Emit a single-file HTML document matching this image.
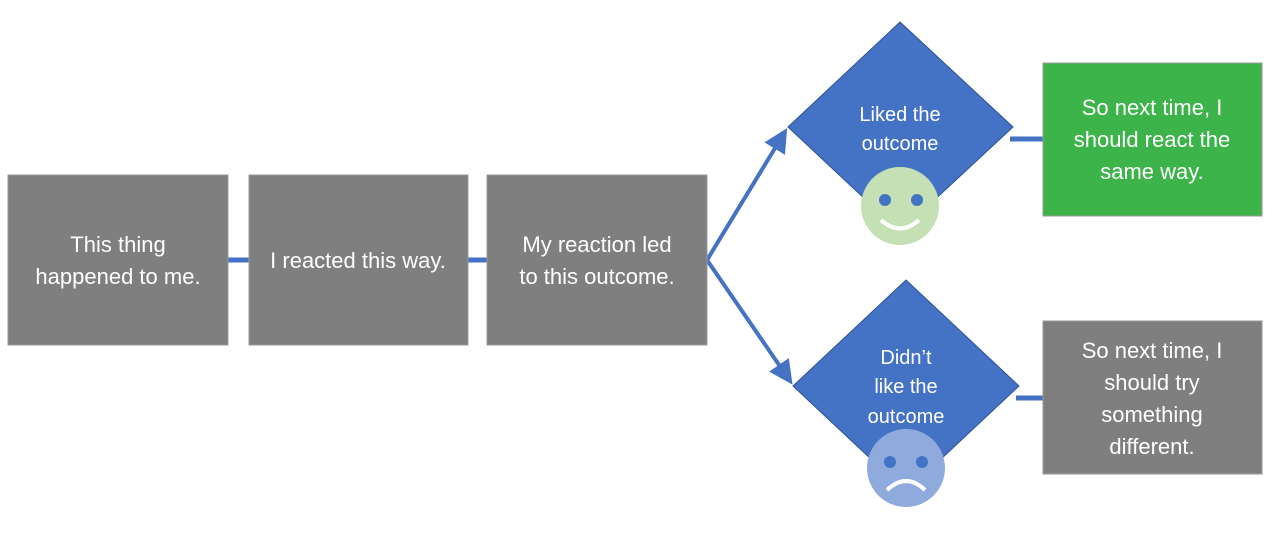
<!DOCTYPE html>
<html><head><style>
body{margin:0;background:#fff;width:1273px;height:530px;overflow:hidden}
svg text{font-family:"Liberation Sans",sans-serif;fill:#fff;text-anchor:middle}
</style></head><body>
<svg width="1273" height="530" xmlns="http://www.w3.org/2000/svg">
<defs><marker id="a" markerWidth="6" markerHeight="6" refX="4" refY="3" orient="auto"><path d="M0,0 L6,3 L0,6 z" fill="#4472c4"/></marker></defs>
<g stroke="#4472c4" stroke-width="5" fill="none">
<line x1="228" y1="260" x2="249" y2="260"/>
<line x1="468" y1="260" x2="487" y2="260"/>
<line x1="1010" y1="139" x2="1043" y2="139"/>
<line x1="1016" y1="398" x2="1043" y2="398"/>
<line x1="707" y1="260" x2="783" y2="135" marker-end="url(#a)" stroke-width="4"/>
<line x1="707" y1="260" x2="788" y2="378" marker-end="url(#a)" stroke-width="4"/>
</g>
<g fill="#7f7f7f" stroke="#999" stroke-width="1">
<rect x="8" y="175" width="220" height="170"/>
<rect x="249" y="175" width="219" height="170"/>
<rect x="487" y="175" width="220" height="170"/>
<rect x="1043" y="321" width="219" height="153"/>
</g>
<rect x="1043" y="63" width="219" height="153" fill="#3cb44a" stroke="#999"/>
<polygon points="900,22 1013,127 900,232 788,127" fill="#4472c4" stroke="#2f528f"/>
<polygon points="906,280 1019,386 906,492 793,386" fill="#4472c4" stroke="#2f528f"/>
<circle cx="900" cy="206" r="39" fill="#c5e0b4"/>
<circle cx="885" cy="200" r="6" fill="#4472c4"/><circle cx="917" cy="200" r="6" fill="#4472c4"/>
<path d="M881,220 Q900,237 919,220" stroke="#fff" stroke-width="4" fill="none"/>
<circle cx="906" cy="468" r="39" fill="#8faadc"/>
<circle cx="890" cy="462" r="6" fill="#4472c4"/><circle cx="922" cy="462" r="6" fill="#4472c4"/>
<path d="M887,490 Q906,472 925,490" stroke="#fff" stroke-width="4" fill="none"/>
<g font-size="22">
<text x="118" y="252">This thing</text><text x="118" y="284">happened to me.</text>
<text x="358" y="268">I reacted this way.</text>
<text x="597" y="252">My reaction led</text><text x="597" y="284">to this outcome.</text>
<text x="1152" y="115">So next time, I</text><text x="1152" y="147">should react the</text><text x="1152" y="179">same way.</text>
<text x="1152" y="358">So next time, I</text><text x="1152" y="390">should try</text><text x="1152" y="422">something</text><text x="1152" y="454">different.</text>
</g>
<g font-size="20">
<text x="900" y="121">Liked the</text><text x="900" y="150">outcome</text>
<text x="906" y="364">Didn’t</text><text x="906" y="393">like the</text><text x="906" y="423">outcome</text>
</g>
</svg>
</body></html>
